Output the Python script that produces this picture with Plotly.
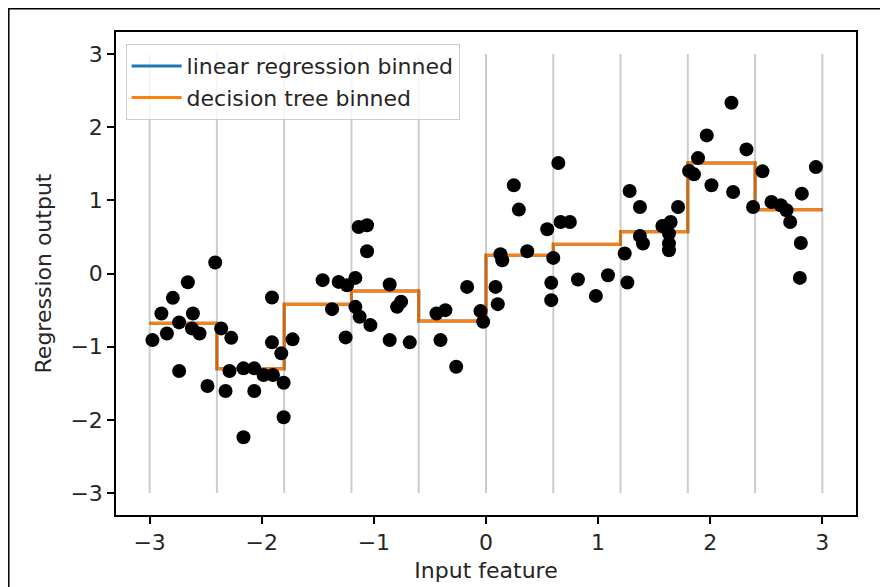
import plotly.graph_objects as go

# Scatter data (wave dataset)
x_points = [-2.975, -2.846, -2.895, -2.793, -2.737, -2.659, -2.737, -2.614, -2.623, -2.555,
            -2.415, -2.484, -2.362, -2.272, -2.323, -2.163, -2.067, -2.288, -2.163, -2.067,
            -1.984, -1.900, -1.805, -1.805, -1.909, -1.909, -1.826, -1.725, -1.457, -1.373,
            -1.314, -1.239, -1.165, -1.252, -1.136, -1.061, -1.061, -1.165, -1.127, -1.031,
            -0.859, -0.793, -0.757, -0.859, -0.680, -0.442, -0.362, -0.406, -0.266, -0.168,
            -0.049, -0.025, 0.085, 0.105, 0.129, 0.145, 0.248, 0.293, 0.368, 0.546,
            0.665, 0.748, 0.645, 0.600, 0.582, 0.582, 0.820, 0.980, 1.088, 1.261,
            1.237, 1.281, 1.373, 1.373, 1.400, 1.573, 1.647, 1.632, 1.632, 1.632,
            1.713, 1.811, 1.855, 1.891, 1.969, 2.011, 2.189, 2.204, 2.323, 2.382,
            2.466, 2.546, 2.629, 2.680, 2.713, 2.817, 2.942, 2.808, 2.799]
y_points = [-0.910, -0.819, -0.546, -0.333, -0.668, -0.119, -1.333, -0.546, -0.750, -0.819,
            0.150, -1.538, -0.750, -0.879, -1.606, -2.237, -1.606, -1.333, -1.296, -1.296,
            -1.387, -1.387, -1.492, -1.965, -0.327, -0.941, -1.091, -0.900, -0.091, -0.487,
            -0.115, -0.160, -0.060, -0.873, 0.636, 0.659, 0.304, -0.456, -0.592, -0.705,
            -0.150, -0.456, -0.387, -0.910, -0.941, -0.546, -0.501, -0.910, -1.274, -0.183,
            -0.514, -0.660, -0.183, -0.419, 0.263, 0.181, 1.205, 0.873, 0.304, 0.604,
            0.704, 0.704, 1.509, 0.213, -0.128, -0.364, -0.082, -0.306, -0.023, -0.123,
            0.273, 1.127, 0.909, 0.513, 0.409, 0.649, 0.704, 0.546, 0.409, 0.318,
            0.909, 1.400, 1.355, 1.577, 1.887, 1.205, 2.333, 1.113, 1.696, 0.909,
            1.396, 0.977, 0.932, 0.864, 0.704, 1.091, 1.454, 0.417, -0.060]

# Bin edges and per-bin predictions (identical for both models)
bin_edges = [-3.0, -2.4, -1.8, -1.2, -0.6, 0.0, 0.6, 1.2, 1.8, 2.4, 3.0]
linreg_binned = [-0.68, -1.30, -0.42, -0.24, -0.65, 0.25, 0.40, 0.57, 1.51, 0.87]
tree_binned = [-0.68, -1.30, -0.42, -0.24, -0.65, 0.25, 0.40, 0.57, 1.51, 0.87]
vline_low, vline_high = -3, 3
tick_vals = [-3, -2, -1, 0, 1, 2, 3]
tick_text = ["\u22123", "\u22122", "\u22121", "0", "1", "2", "3"]

FONT = "DejaVu Sans"
FS = 22
TXT = "#262626"

fig = go.Figure()

fig.add_trace(go.Scatter(
    x=bin_edges, y=linreg_binned + [linreg_binned[-1]], mode="lines",
    line=dict(color="#1f77b4", width=3, shape="hv"),
    name="linear regression binned"))
fig.add_trace(go.Scatter(
    x=bin_edges, y=tree_binned + [tree_binned[-1]], mode="lines",
    line=dict(color="#ff7f0e", width=3, shape="hv"),
    name="decision tree binned"))
fig.add_trace(go.Scatter(
    x=x_points, y=y_points, mode="markers",
    marker=dict(color="black", size=14, line=dict(width=0)),
    showlegend=False))

vx, vy = [], []
for b in bin_edges:
    vx += [b, b, None]
    vy += [vline_low, vline_high, None]
fig.add_trace(go.Scatter(
    x=vx, y=vy, mode="lines",
    line=dict(color="rgba(0,0,0,0.2)", width=2),
    showlegend=False, hoverinfo="skip"))

axis_common = dict(
    showgrid=False, zeroline=False, showline=True, linecolor="black", linewidth=1.5,
    mirror=True, ticks="outside", ticklen=7, tickwidth=1.5, tickcolor="black",
    tickfont=dict(family=FONT, size=FS, color=TXT),
    tickvals=tick_vals, ticktext=tick_text, range=[-3.3, 3.3], automargin=False)

# page body has an 8px offset, margins compensate for it
L, T, R, B = 108, 24, 40, 80
PW, PH = 888 - L - R, 587 - T - B

fig.update_layout(
    width=888, height=587,
    margin=dict(l=L, r=R, t=T, b=B),
    paper_bgcolor="white", plot_bgcolor="white",
    font=dict(family=FONT, size=FS, color=TXT),
    xaxis=dict(**axis_common,
               title=dict(text="Input feature", font=dict(family=FONT, size=FS, color=TXT), standoff=8)),
    yaxis=dict(**axis_common,
               title=dict(text="Regression output", font=dict(family=FONT, size=FS, color=TXT), standoff=13)),
    legend=dict(x=0.013, y=0.975, xanchor="left", yanchor="top",
                bgcolor="rgba(255,255,255,0.8)", bordercolor="#cccccc", borderwidth=1,
                font=dict(family=FONT, size=FS, color=TXT), tracegroupgap=0, itemwidth=50),
    shapes=[dict(type="rect", xref="paper", yref="paper",
                 x0=(0.8 - L) / PW, x1=(900 - L) / PW,
                 y0=(587 - B - 600) / PH, y1=(587 - B - 0.8) / PH,
                 line=dict(color="black", width=1.5), fillcolor="rgba(0,0,0,0)", layer="above")],
    showlegend=True,
)

fig.write_html("out.html")
